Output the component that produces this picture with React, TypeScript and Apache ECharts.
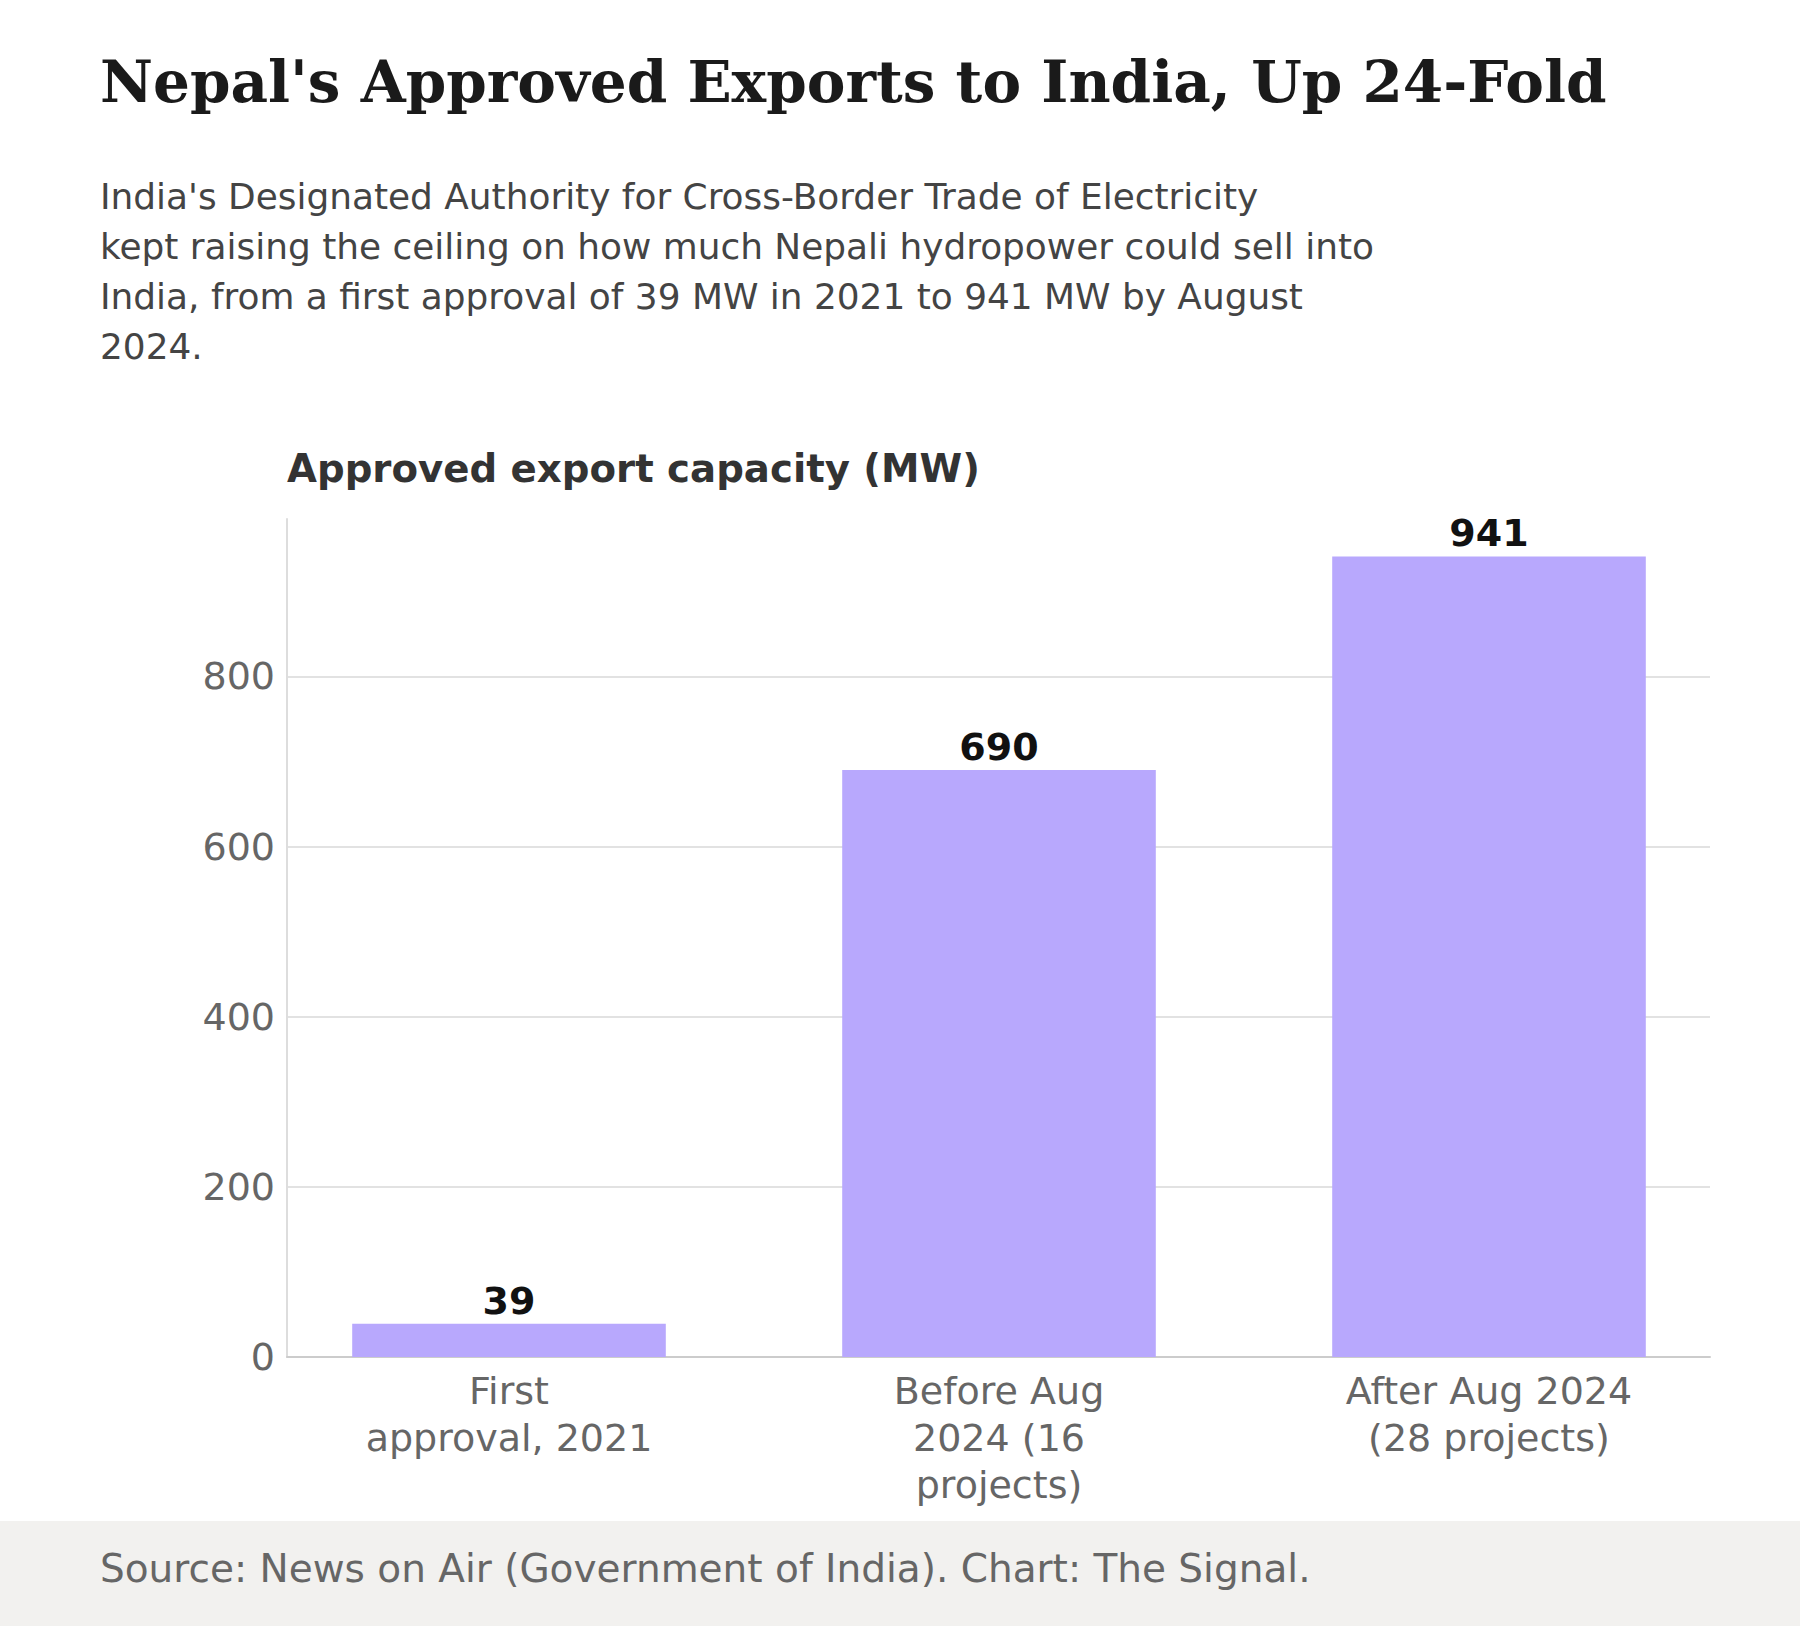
import { useEffect, useRef } from "react";
import * as echarts from "echarts";

const categories = ["First\napproval, 2021", "Before Aug\n2024 (16\nprojects)", "After Aug 2024\n(28 projects)"];
const values = [39, 690, 941];

const SANS = "DejaVu Sans";

export default function App() {
  const ref = useRef<HTMLDivElement>(null);

  useEffect(() => {
    document.body.style.margin = "0";
    if (!ref.current) return;
    const chart = echarts.init(ref.current, undefined, { renderer: "svg" });
    chart.setOption({
      animation: false,
      backgroundColor: "#ffffff",
      graphic: [
        { type: "rect", left: 0, top: 1521, shape: { width: 1800, height: 105 }, style: { fill: "#f2f1ef" } },
        { type: "text", left: 100, top: 53, style: { text: "Nepal's Approved Exports to India, Up 24-Fold", font: "bold 58px 'DejaVu Serif'", fill: "#1a1a1a" } },
        {
          type: "text", left: 100, top: 171,
          style: {
            text: "India's Designated Authority for Cross-Border Trade of Electricity\nkept raising the ceiling on how much Nepali hydropower could sell into\nIndia, from a first approval of 39 MW in 2021 to 941 MW by August\n2024.",
            font: `35.9px '${SANS}'`, lineHeight: 50, fill: "#444444",
          },
        },
        { type: "text", left: 287, top: 449, style: { text: "Approved export capacity (MW)", font: `bold 38.7px '${SANS}'`, fill: "#333333" } },
        { type: "text", left: 100, top: 1549, style: { text: "Source: News on Air (Government of India). Chart: The Signal.", font: `39px '${SANS}'`, fill: "#666666" } },
      ],
      grid: [
        { left: 287, right: 90, top: 519, bottom: 269 },
        { left: 264, right: 66, top: 519, bottom: 269 },
      ],
      xAxis: [
        {
          type: "category",
          gridIndex: 0,
          data: categories,
          axisLine: { lineStyle: { color: "#cccccc", width: 2 } },
          axisTick: { show: false },
          axisLabel: { show: false },
        },
        {
          type: "category",
          gridIndex: 1,
          data: categories,
          axisLine: { show: false },
          axisTick: { show: false },
          axisLabel: { color: "#666666", fontSize: 38, fontFamily: SANS, lineHeight: 47, margin: 10 },
        },
      ],
      yAxis: [
        {
          type: "value",
          gridIndex: 0,
          min: 0,
          max: 985,
          interval: 200,
          axisLine: { show: true, lineStyle: { color: "#dddddd", width: 2 } },
          axisTick: { show: false },
          axisLabel: { color: "#666666", fontSize: 38, fontFamily: SANS, margin: 12, showMaxLabel: false },
          splitLine: { lineStyle: { color: ["#e2e2e2", "#e2e2e2", "#e2e2e2", "#e2e2e2", "#e2e2e2", "transparent"], width: 2 } },
        },
        {
          type: "value",
          gridIndex: 1,
          min: 0,
          max: 985,
          interval: 200,
          show: false,
          splitLine: { show: false },
        },
      ],
      series: [
        {
          type: "bar",
          xAxisIndex: 1,
          yAxisIndex: 1,
          data: values,
          barWidth: "64%",
          itemStyle: { color: "#b8a8fd" },
          label: { show: true, position: "top", distance: 4, color: "#111111", fontSize: 38, fontWeight: "bold", fontFamily: SANS },
        },
      ],
    });
    return () => chart.dispose();
  }, []);

  return <div ref={ref} style={{ width: 1800, height: 1626 }} />;
}
